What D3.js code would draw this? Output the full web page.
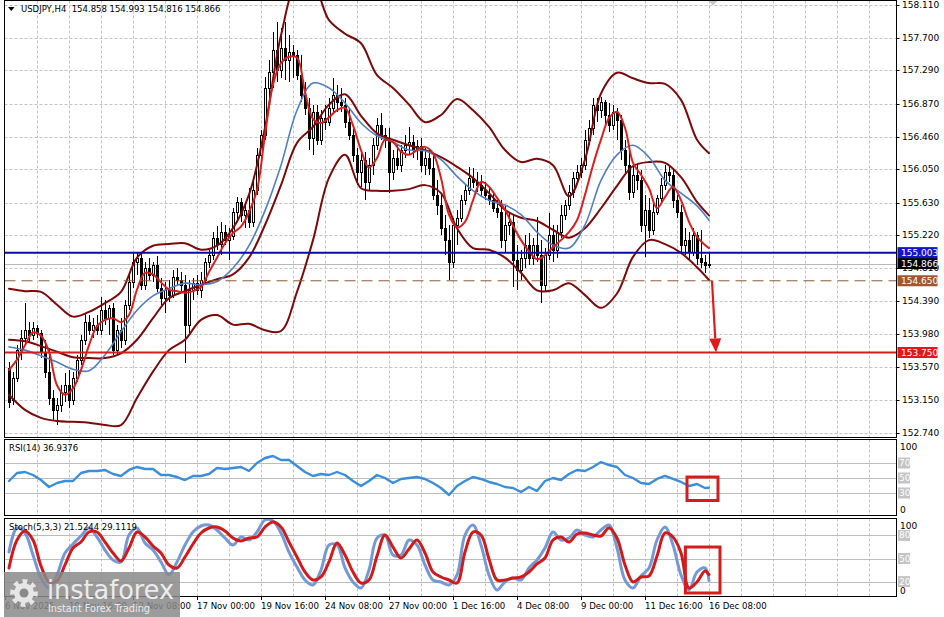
<!DOCTYPE html>
<html><head><meta charset="utf-8">
<script src="https://cdn.jsdelivr.net/npm/d3@7"></script>
<style>body{margin:0;background:#fff;}svg{display:block;}text{font-family:"DejaVu Sans",sans-serif;}</style>
</head><body><svg id="c" width="944" height="617"></svg>
<script>
// ---------- DATA ----------
const symbolText = "USDJPY,H4  154.858 154.993 154.816 154.866";
const rsiText = "RSI(14) 36.9376";
const stochText = "Stoch(5,3,3) 21.5244 29.1119";
const priceTickLabels = ["158.110","157.700","157.290","156.870","156.460","156.050","155.630","155.220","154.810","154.390","153.980","153.570","153.150","152.740"];
const timeLabels = ["6 Nov 2025","10 Nov 16:00","12 Nov 08:00","17 Nov 00:00","19 Nov 16:00","24 Nov 08:00","27 Nov 00:00","1 Dec 16:00","4 Dec 08:00","9 Dec 00:00","11 Dec 16:00","16 Dec 08:00"];
const timeLabelBars = [-1,15,31,47,63,79,95,111,127,143,159,175];

const opens = [153.56,153.15,153.43,153.78,153.93,154.03,153.97,154.06,154.00,153.76,
153.51,153.18,153.03,153.09,153.26,153.34,153.15,153.43,153.66,153.91,
154.13,154.03,154.10,154.03,154.28,154.18,154.31,153.78,154.03,153.91,
154.35,154.64,154.89,154.94,154.60,154.81,154.72,154.85,154.56,154.43,
154.53,154.47,154.70,154.66,154.60,154.10,154.53,154.62,154.53,154.66,
154.89,154.97,155.19,155.11,155.26,155.16,155.21,155.51,155.64,155.48,
155.54,155.39,155.79,156.23,156.48,157.07,157.27,157.55,157.30,157.57,
157.42,157.52,157.48,157.23,156.98,156.82,156.44,156.77,156.42,156.69,
156.64,156.82,156.98,156.89,156.86,156.64,156.48,156.23,156.02,156.17,
155.89,156.10,156.35,156.60,156.48,156.42,156.02,156.19,156.10,156.29,
156.35,156.39,156.29,156.34,156.10,156.19,156.07,155.73,155.60,155.31,
155.16,154.89,155.35,155.44,155.66,155.79,155.94,155.89,155.85,155.79,
155.73,155.66,155.56,155.51,155.16,155.35,155.39,154.91,154.79,154.94,
155.10,154.94,155.10,154.97,154.60,154.97,155.22,155.04,155.26,155.48,
155.60,155.76,155.94,156.02,156.10,156.42,156.57,156.86,156.79,156.89,
156.73,156.60,156.77,156.67,156.29,156.10,155.76,155.98,155.92,155.35,
155.54,155.29,155.51,155.69,155.85,156.02,155.98,155.66,155.51,155.10,
155.16,155.01,155.22,154.94,154.89,154.858];
const highs = [153.63,153.51,153.84,154.03,154.37,154.13,154.13,154.10,154.03,153.91,
153.78,153.28,153.18,153.34,153.49,153.53,153.51,153.72,153.97,154.25,
154.22,154.18,154.22,154.45,154.41,154.35,154.37,154.10,154.18,154.41,
154.72,155.00,155.01,154.99,154.89,154.94,154.89,154.96,154.69,154.64,
154.66,154.79,154.81,154.76,154.72,154.66,154.69,154.72,154.76,154.94,
155.06,155.26,155.34,155.39,155.35,155.31,155.56,155.70,155.69,155.60,
155.81,155.92,156.32,156.54,157.21,157.42,157.77,157.90,157.82,157.90,
157.73,157.61,157.55,157.48,157.14,156.94,156.86,156.86,156.79,156.86,
156.94,157.19,157.11,157.07,156.94,156.82,156.60,156.32,156.29,156.27,
156.19,156.44,156.69,156.76,156.57,156.57,156.29,156.35,156.35,156.48,
156.58,156.48,156.42,156.44,156.32,156.29,156.23,155.92,155.73,155.48,
155.35,155.44,155.54,155.73,155.85,156.08,156.07,156.02,155.98,155.89,
155.81,155.76,155.66,155.66,155.60,155.50,155.48,155.10,155.04,155.22,
155.25,155.19,155.45,155.16,155.06,155.50,155.35,155.35,155.60,155.66,
155.85,156.02,156.10,156.19,156.54,156.67,156.94,156.94,156.96,156.92,
156.88,156.86,156.82,156.73,156.42,156.32,156.10,156.10,156.04,155.73,
155.69,155.66,155.73,155.94,156.10,156.09,156.07,155.73,155.60,155.31,
155.26,155.31,155.26,155.29,154.97,154.993];
const lows = [153.05,153.09,153.38,153.66,153.84,153.88,153.91,153.93,153.68,153.43,
153.09,152.90,152.84,153.00,153.13,153.05,153.09,153.38,153.59,153.84,
153.97,153.93,153.97,153.97,154.10,153.97,153.72,153.72,153.81,153.84,
154.28,154.56,154.72,154.53,154.53,154.66,154.64,154.51,154.35,154.25,
154.38,154.43,154.60,154.51,153.62,153.97,154.41,154.47,154.43,154.60,
154.81,154.91,155.04,154.97,155.10,154.91,155.16,155.41,155.39,155.31,
155.31,155.33,155.73,156.17,156.42,156.92,157.07,157.14,157.19,157.17,
157.14,157.19,157.17,156.89,156.73,156.29,156.23,156.35,156.35,156.54,
156.59,156.77,156.77,156.77,156.57,156.42,156.14,155.85,155.83,155.66,
155.79,155.98,156.29,156.42,156.32,155.75,155.92,156.04,156.02,156.19,
156.23,156.19,156.17,156.02,155.98,155.98,155.66,155.48,155.22,154.97,
154.66,154.81,155.10,155.39,155.60,155.73,155.81,155.76,155.71,155.66,
155.60,155.51,155.44,155.06,155.01,155.22,154.57,154.53,154.66,154.81,
154.85,154.85,154.89,154.37,154.51,154.91,154.89,154.94,155.19,155.41,
155.54,155.69,155.89,155.94,156.04,156.35,156.48,156.64,156.69,156.60,
156.52,156.54,156.42,156.17,155.98,155.66,155.69,155.79,155.26,154.95,
155.19,155.22,155.48,155.64,155.79,155.89,155.56,155.44,155.01,154.97,
154.91,154.96,154.85,154.81,154.75,154.816];
const closes = [153.13,153.43,153.78,153.93,154.03,153.97,154.06,154.00,153.76,153.51,
153.18,153.03,153.09,153.26,153.34,153.15,153.43,153.66,153.91,154.13,
154.03,154.10,154.03,154.28,154.18,154.31,153.78,154.03,153.91,154.35,
154.64,154.89,154.94,154.60,154.81,154.72,154.85,154.56,154.43,154.53,
154.47,154.70,154.66,154.60,154.10,154.53,154.62,154.53,154.66,154.89,
154.97,155.19,155.11,155.26,155.16,155.21,155.51,155.64,155.48,155.54,
155.39,155.79,156.23,156.48,157.07,157.27,157.55,157.30,157.57,157.42,
157.52,157.48,157.23,156.98,156.82,156.44,156.77,156.42,156.69,156.64,
156.82,156.98,156.89,156.86,156.64,156.48,156.23,156.02,156.17,155.89,
156.10,156.35,156.60,156.48,156.42,156.02,156.19,156.10,156.29,156.35,
156.39,156.29,156.34,156.10,156.19,156.07,155.73,155.60,155.31,155.16,
154.89,155.35,155.44,155.66,155.79,155.94,155.89,155.85,155.79,155.73,
155.66,155.56,155.51,155.16,155.35,155.39,154.91,154.79,154.94,155.10,
154.94,155.10,154.97,154.60,154.97,155.22,155.04,155.26,155.48,155.60,
155.76,155.94,156.02,156.10,156.42,156.57,156.86,156.79,156.89,156.73,
156.60,156.77,156.67,156.29,156.10,155.76,155.98,155.92,155.35,155.54,
155.29,155.51,155.69,155.85,156.02,155.98,155.66,155.51,155.10,155.16,
155.01,155.22,154.94,154.89,154.85,154.866];

// indicator samples (bar indices)
const bandBars = [0,4,8,12,16,20,24,28,32,36,40,44,48,52,56,60,64,68,72,76,80,84,88,92,96,100,104,108,112,116,120,124,128,132,136,140,144,148,152,156,160,164,168,172,175];
const bbUpper = [154.55,154.52,154.51,154.35,154.20,154.26,154.37,154.51,154.94,155.09,
155.11,155.12,155.04,155.09,155.31,155.73,156.57,157.73,158.36,158.36,
157.92,157.75,157.63,157.23,157.07,156.86,156.64,156.73,156.93,156.79,
156.58,156.29,156.14,156.18,156.10,155.71,156.17,157.00,157.26,157.19,
157.13,157.12,156.92,156.42,156.25];
const bbLower = [153.22,153.03,152.93,152.89,152.88,152.87,152.84,152.84,153.18,153.51,
153.78,153.91,154.16,154.22,154.10,154.11,154.03,154.02,154.51,155.16,
155.94,156.23,155.81,155.78,155.78,155.80,155.85,155.75,155.31,155.06,
155.04,154.94,154.75,154.53,154.53,154.62,154.47,154.31,154.49,154.95,
155.16,155.11,155.00,154.82,154.66];
const bbMiddle = [153.91,153.89,153.83,153.76,153.69,153.68,153.68,153.74,153.91,154.18,
154.43,154.52,154.60,154.67,154.73,154.94,155.35,155.85,156.38,156.58,
156.86,156.99,156.72,156.50,156.42,156.35,156.29,156.20,156.08,155.94,
155.75,155.54,155.44,155.40,155.29,155.19,155.31,155.56,155.84,156.09,
156.14,156.13,155.95,155.64,155.47];
const maSlow = [153.82,153.78,153.71,153.63,153.54,153.52,153.72,154.01,154.28,154.46,
154.55,154.62,154.60,154.64,154.81,155.09,155.53,156.10,156.79,157.13,
157.07,156.88,156.63,156.47,156.39,156.29,156.28,156.17,155.96,155.78,
155.66,155.60,155.48,155.26,155.10,155.06,155.35,155.91,156.23,156.35,
156.20,155.91,155.75,155.59,155.41];
const fastBars = [0,2,4,6,8,10,12,14,16,18,20,22,24,26,28,30,32,34,36,38,40,42,44,46,48,50,52,54,56,58,60,62,64,66,68,70,72,74,76,78,80,82,84,86,88,90,92,94,96,98,100,102,104,106,108,110,112,114,116,118,120,122,124,126,128,130,132,134,136,138,140,142,144,146,148,150,152,154,156,158,160,162,164,166,168,170,172,174,175];
const maFast = [153.53,153.66,153.84,154.00,153.96,153.76,153.34,153.22,153.30,153.53,
153.84,154.08,154.16,154.18,154.13,154.22,154.54,154.75,154.73,154.63,
154.54,154.52,154.50,154.52,154.57,154.76,154.94,155.12,155.25,155.33,
155.51,155.79,156.48,157.11,157.38,157.46,157.45,157.02,156.68,156.63,
156.70,156.79,156.82,156.60,156.29,156.07,156.19,156.42,156.39,156.27,
156.23,156.29,156.33,156.25,155.94,155.48,155.32,155.39,155.66,155.89,
155.83,155.69,155.54,155.34,155.16,155.02,154.92,154.97,155.07,155.16,
155.26,155.41,155.73,156.10,156.42,156.69,156.77,156.57,156.13,155.98,
155.81,155.56,155.70,155.83,155.66,155.39,155.20,155.10,155.06];
const rsi = [46.0,56.7,58.0,54.0,47.3,38.0,43.3,46.0,46.0,56.7,
59.3,59.3,60.7,55.3,52.7,60.7,64.7,62.0,62.0,54.0,
54.0,51.3,47.3,52.7,52.7,55.3,63.3,62.0,63.3,64.7,
59.3,70.0,76.7,79.3,74.0,74.0,66.0,58.0,52.7,55.3,
54.0,58.0,54.0,46.0,39.3,46.0,54.0,50.0,43.3,48.7,
50.0,51.3,48.7,43.3,36.7,27.3,39.3,46.0,51.3,48.7,
44.7,42.0,38.0,36.7,31.3,38.0,32.7,46.0,50.0,47.3,
55.3,60.7,59.3,64.7,71.3,67.3,64.7,54.0,50.0,43.3,
42.0,48.7,52.7,48.7,44.7,39.3,42.0,36.7,36.94];
const stochK = [58.4,89.6,83.1,54.5,24.7,11.7,28.6,57.1,68.8,79.2,
89.6,77.9,61.0,48.1,45.5,80.5,89.6,70.1,61.0,45.5,
28.6,45.5,67.5,84.4,92.2,93.5,87.0,76.6,67.5,77.9,
74.0,84.4,100,98.7,83.1,58.4,39.0,22.1,15.6,35.1,
67.5,67.5,37.7,19.5,11.7,35.1,76.6,80.5,54.5,54.5,
74.0,67.5,41.6,22.1,19.5,15.6,28.6,80.5,93.5,67.5,
28.6,9.1,19.5,24.7,22.1,37.7,48.1,63.6,84.4,74.0,
76.6,87.0,80.5,77.9,87.0,93.5,63.6,22.1,11.7,27.3,
37.7,74.0,90.9,67.5,28.6,9.1,32.5,37.7,21.52];
const stochD = [37.7,74.0,85.7,74.0,40.3,19.5,20.8,41.6,63.6,71.4,
84.4,84.4,71.4,57.1,46.8,63.6,84.4,77.9,66.2,57.1,
41.6,37.7,51.9,68.8,83.1,89.6,90.9,85.7,76.6,72.7,
76.6,77.9,90.9,97.4,90.9,71.4,51.9,32.5,22.1,26.0,
45.5,70.1,54.5,32.5,18.2,22.1,53.2,80.5,64.9,50.6,
62.3,74.0,57.1,32.5,26.0,22.1,18.2,58.4,84.4,80.5,
49.4,22.1,22.1,24.7,26.0,32.5,42.9,50.6,74.0,77.9,
71.4,81.8,83.1,80.5,79.2,89.6,76.6,41.6,19.5,26.0,
27.3,53.2,83.1,77.9,57.1,11.7,19.5,33.8,29.11];

const resistancePrice = 155.003;
const bidPrice = 154.866;
const pivotPrice = 154.650;
const targetPrice = 153.750;
const rsiLevels = [70,50,30];
const stochLevels = [80,50,20];
const arrowStart = [175.75, 154.65];
const arrowEnd = [176.75, 153.75];
const rsiBox = [169.5, 177.25, 51.3, 20];
const stochBox = [169.1, 177.75, 64.9, 5.2];

// ---------- LAYOUT ----------
const svg = d3.select("#c");
const L = 4.5, R = 896.5;
const P = {main:[0.5,437.5], rsi:[439.5,515.5], sto:[518.5,596.5]};
const x = d3.scaleLinear().domain([0,175]).range([9,709]);
const yP = d3.scaleLinear().domain([152.74,158.11]).range([433,5]);
const yR = d3.scaleLinear().domain([0,100]).range([515.5,440.5]);
const yS = d3.scaleLinear().domain([0,100]).range([597,520]);
const gridCol = "#c4c4c4";

svg.append("rect").attr("width",944).attr("height",617).attr("fill","#fff");
const defs = svg.append("defs");
Object.entries(P).forEach(([k,[t,b]])=>{
  defs.append("clipPath").attr("id","cl-"+k).append("rect").attr("x",L).attr("y",t).attr("width",R-L).attr("height",b-t);
});

// vertical dashed grid
const gridBars = d3.range(7, 216, 8);
Object.entries(P).forEach(([k,[t,b]])=>{
  svg.append("g").selectAll("line").data(gridBars).join("line")
    .attr("x1",d=>Math.round(x(d))+0.5).attr("x2",d=>Math.round(x(d))+0.5)
    .attr("y1",t).attr("y2",b).attr("stroke",gridCol).attr("stroke-dasharray","3,2");
});
// horizontal main grid
const tickVals = priceTickLabels.map(Number);
svg.append("g").selectAll("line").data(tickVals).join("line")
  .attr("x1",L).attr("x2",R).attr("y1",d=>Math.round(yP(d))+0.5).attr("y2",d=>Math.round(yP(d))+0.5)
  .attr("stroke",gridCol).attr("stroke-dasharray","3,2");
// indicator level lines
svg.append("g").selectAll("line").data(rsiLevels).join("line")
  .attr("x1",L).attr("x2",R).attr("y1",d=>Math.round(yR(d))+0.5).attr("y2",d=>Math.round(yR(d))+0.5)
  .attr("stroke","#bdbdbd");
svg.append("g").selectAll("line").data(stochLevels).join("line")
  .attr("x1",L).attr("x2",R).attr("y1",d=>Math.round(yS(d))+0.5).attr("y2",d=>Math.round(yS(d))+0.5)
  .attr("stroke","#bdbdbd");

// ---------- MAIN PANEL ----------
const gm = svg.append("g").attr("clip-path","url(#cl-main)");
// bid line
gm.append("line").attr("x1",L).attr("x2",R).attr("y1",Math.round(yP(bidPrice))+0.5).attr("y2",Math.round(yP(bidPrice))+0.5).attr("stroke","#b8b8b8");
// candles
const bars = d3.range(opens.length);
const gc = gm.append("g").attr("shape-rendering","crispEdges");
gc.selectAll("line").data(bars).join("line")
  .attr("x1",i=>Math.round(x(i))+0.5).attr("x2",i=>Math.round(x(i))+0.5)
  .attr("y1",i=>yP(highs[i])).attr("y2",i=>yP(lows[i])).attr("stroke","#000");
gc.selectAll("rect").data(bars).join("rect")
  .attr("x",i=>Math.round(x(i))-0.5).attr("width",2)
  .attr("y",i=>Math.round(yP(Math.max(opens[i],closes[i])))+0.5)
  .attr("height",i=>Math.max(0.5,Math.round(yP(Math.min(opens[i],closes[i])))-Math.round(yP(Math.max(opens[i],closes[i])))))
  .attr("fill",i=>closes[i]>=opens[i]?"#fff":"#000").attr("stroke","#000");

const curve = d3.curveCatmullRom.alpha(0.5);
function drawLine(g, bIdx, vals, ys, color, w, c){
  g.append("path").datum(vals).attr("fill","none").attr("stroke",color).attr("stroke-width",w)
   .attr("stroke-linejoin","round").attr("stroke-linecap","round")
   .attr("d", d3.line().x((d,k)=>x(bIdx[k])).y(d=>ys(d)).curve(c||curve));
}
drawLine(gm, bandBars, bbUpper, yP, "#7c0a0a", 2);
drawLine(gm, bandBars, bbLower, yP, "#7c0a0a", 2);
drawLine(gm, bandBars, bbMiddle, yP, "#7c0a0a", 2);
drawLine(gm, bandBars, maSlow, yP, "#4f7fc4", 1.6);
drawLine(gm, fastBars, maFast, yP, "#d8211f", 2);

// horizontal levels
gm.append("line").attr("x1",L).attr("x2",R).attr("y1",yP(pivotPrice)).attr("y2",yP(pivotPrice))
  .attr("stroke","#8e5a34").attr("stroke-width",1).attr("stroke-dasharray","11,6");
gm.append("line").attr("x1",L).attr("x2",R).attr("y1",yP(resistancePrice)).attr("y2",yP(resistancePrice))
  .attr("stroke","#0a0aa8").attr("stroke-width",2);
gm.append("line").attr("x1",L).attr("x2",R).attr("y1",yP(targetPrice)).attr("y2",yP(targetPrice))
  .attr("stroke","#d41e1e").attr("stroke-width",2);

// arrow
{
  const x0=x(arrowStart[0]), y0=yP(arrowStart[1]), x1=x(arrowEnd[0]), y1=yP(arrowEnd[1]);
  const ang=Math.atan2(y1-y0,x1-x0), hl=14, hw=6;
  const bx=x1-hl*Math.cos(ang), by=y1-hl*Math.sin(ang);
  gm.append("line").attr("x1",x0).attr("y1",y0).attr("x2",bx).attr("y2",by).attr("stroke","#e01b1b").attr("stroke-width",2.2);
  gm.append("path").attr("fill","#e01b1b").attr("d",
    `M${x1},${y1}L${bx+hw*Math.sin(ang)},${by-hw*Math.cos(ang)}L${bx-hw*Math.sin(ang)},${by+hw*Math.cos(ang)}Z`);
}
// shift marker
svg.append("path").attr("fill","#c8c8c8").attr("d",`M${x(176)-5},0.5L${x(176)+5},0.5L${x(176)},5.5Z`);

// ---------- RSI ----------
const gr = svg.append("g").attr("clip-path","url(#cl-rsi)");
drawLine(gr, fastBars, rsi, yR, "#3a8edb", 2.4, d3.curveLinear);
gr.append("rect").attr("x",x(rsiBox[0])).attr("y",yR(rsiBox[2])).attr("width",x(rsiBox[1])-x(rsiBox[0]))
  .attr("height",yR(rsiBox[3])-yR(rsiBox[2])).attr("fill","none").attr("stroke","#d81c1c").attr("stroke-width",3);

// ---------- STOCH ----------
const gs = svg.append("g").attr("clip-path","url(#cl-sto)");
drawLine(gs, fastBars, stochK, yS, "#7399d6", 3);
drawLine(gs, fastBars, stochD, yS, "#d21a1a", 3);
gs.append("rect").attr("x",x(stochBox[0])).attr("y",yS(stochBox[2])).attr("width",x(stochBox[1])-x(stochBox[0]))
  .attr("height",yS(stochBox[3])-yS(stochBox[2])).attr("fill","none").attr("stroke","#d81c1c").attr("stroke-width",3);

// ---------- FRAMES ----------
Object.values(P).forEach(([t,b])=>{
  svg.append("rect").attr("x",L).attr("y",t).attr("width",R-L).attr("height",b-t).attr("fill","none").attr("stroke","#000");
});

// ---------- AXIS LABELS ----------
const fs = 9;
const ax = svg.append("g").attr("font-size",fs);
ax.selectAll("line.t").data(tickVals).join("line").attr("x1",R).attr("x2",R+3)
  .attr("y1",d=>Math.round(yP(d))+0.5).attr("y2",d=>Math.round(yP(d))+0.5).attr("stroke","#000");
ax.selectAll("text.p").data(priceTickLabels).join("text").attr("x",902).attr("y",d=>yP(+d))
  .attr("dominant-baseline","central").attr("fill","#000").text(d=>d);
function priceTag(p, bg){
  const yy=yP(p);
  ax.append("rect").attr("x",897.5).attr("y",yy-5.5).attr("width",40).attr("height",11).attr("fill",bg);
  ax.append("text").attr("x",901).attr("y",yy).attr("dominant-baseline","central").attr("fill","#fff").text(p.toFixed(3));
}
priceTag(resistancePrice,"#1414c8");
priceTag(bidPrice,"#000");
priceTag(pivotPrice,"#a0562e");
priceTag(targetPrice,"#e6141c");

function levelLabels(levels, ys, top, bot){
  levels.forEach(v=>{
    const yy=ys(v);
    ax.append("rect").attr("x",898).attr("y",yy-5.5).attr("width",12).attr("height",11).attr("fill","#c4c4c4");
    ax.append("text").attr("x",899).attr("y",yy).attr("dominant-baseline","central").attr("fill","#fff").text(v);
  });
  ax.append("text").attr("x",900).attr("y",top+7).attr("dominant-baseline","central").text("100");
  ax.append("text").attr("x",900).attr("y",bot-6).attr("dominant-baseline","central").text("0");
}
levelLabels(rsiLevels, yR, P.rsi[0], P.rsi[1]);
levelLabels(stochLevels, yS, P.sto[0], P.sto[1]);

// time labels
const tx = svg.append("g").attr("font-size",8.6);
timeLabelBars.forEach((b,k)=>{
  const xx=Math.max(5,Math.round(x(b)));
  tx.append("line").attr("x1",xx+0.5).attr("x2",xx+0.5).attr("y1",596.5).attr("y2",600).attr("stroke","#000");
  tx.append("text").attr("x",xx).attr("y",609).attr("fill","#000").text(timeLabels[k]);
});

// header / indicator titles
svg.append("path").attr("d","M8,7L14.5,7L11.25,11Z").attr("fill","#000");
svg.append("text").attr("x",21).attr("y",11.5).attr("font-size",8.5).style("white-space","pre").text(symbolText);
svg.append("text").attr("x",9).attr("y",451).attr("font-size",8.5).text(rsiText);
svg.append("text").attr("x",9).attr("y",530).attr("font-size",8.5).text(stochText);

// ---------- WATERMARK ----------
const lg = svg.append("g");
lg.append("rect").attr("x",4).attr("y",572).attr("width",176).attr("height",45).attr("fill","#8a8a8a").attr("opacity",0.85);
{
  const cx=24, cy=593, ro=14, ri=10, n=8; let d="";
  for(let k=0;k<n*2;k++){
    const a0=k*Math.PI/n - Math.PI/(n*2)*0.6, a1=(k+1)*Math.PI/n - Math.PI/(n*2)*0.6;
    const r=(k%2===0)?ro:ri;
    d+=(k===0?"M":"L")+(cx+r*Math.cos(a0))+","+(cy+r*Math.sin(a0))+"L"+(cx+r*Math.cos(a1))+","+(cy+r*Math.sin(a1));
  }
  lg.append("path").attr("d",d+"Z").attr("fill","#e6e6e6");
  lg.append("circle").attr("cx",cx).attr("cy",cy).attr("r",4.5).attr("fill","#8a8a8a");
}
lg.append("text").attr("x",47).attr("y",599).attr("font-family","Lato, 'Open Sans', sans-serif").attr("font-size",27)
  .attr("fill","#ececec").attr("textLength",127).attr("lengthAdjust","spacingAndGlyphs").text("instaforex");
lg.append("text").attr("x",48).attr("y",612).attr("font-family","Lato, 'Open Sans', sans-serif").attr("font-size",11)
  .attr("fill","#ececec").attr("textLength",102).attr("lengthAdjust","spacingAndGlyphs").text("Instant Forex Trading");
</script></body></html>
